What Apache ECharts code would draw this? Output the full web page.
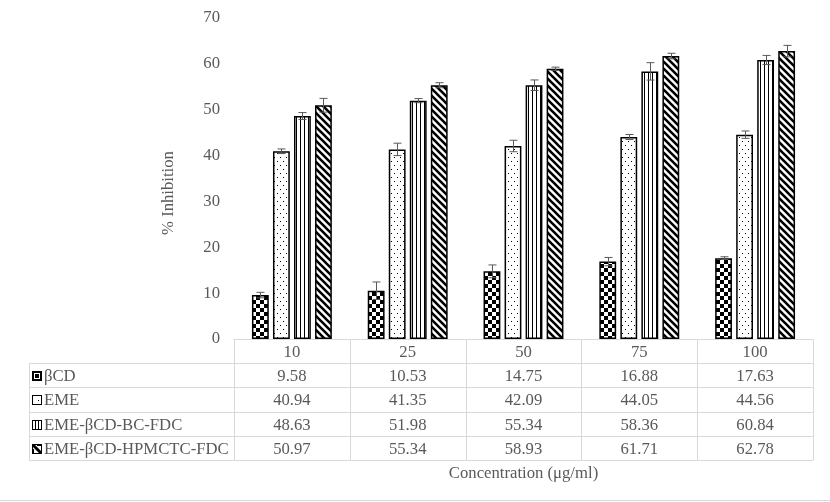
<!DOCTYPE html>
<html><head><meta charset="utf-8">
<script src="https://cdn.jsdelivr.net/npm/echarts@6/dist/echarts.min.js"></script>
<style>html,body{margin:0;padding:0;background:#fff}#c{width:830px;height:502px}</style>
</head><body><div id="c"></div>
<script>
// ---------- data ----------
const categories = ['10', '25', '50', '75', '100'];
const seriesNames = ['βCD', 'EME', 'EME-βCD-BC-FDC', 'EME-βCD-HPMCTC-FDC'];
const betaCD  = [9.58, 10.53, 14.75, 16.88, 17.63];
const eme     = [40.94, 41.35, 42.09, 44.05, 44.56];
const bcFdc   = [48.63, 51.98, 55.34, 58.36, 60.84];
const hpmcFdc = [50.97, 55.34, 58.93, 61.71, 62.78];
const betaCDErr  = [0.6, 1.9, 1.4, 0.9, 0.3];
const emeErr     = [0.5, 1.35, 1.25, 0.55, 0.8];
const bcErr      = [0.75, 0.45, 1.15, 1.9, 1.0];
const hpmcErr    = [1.5, 0.55, 0.35, 0.6, 1.25];
const yMin = 0, yMax = 70, yInterval = 10;
const xTitle = 'Concentration (μg/ml)';
const yTitle = '% Inhibition';

const seriesValues = [betaCD, eme, bcFdc, hpmcFdc];
const seriesErrors = [betaCDErr, emeErr, bcErr, hpmcErr];

// ---------- style ----------
const FONT = "'Liberation Serif','Times New Roman',serif";
const FS = 16.7;
const TXT = '#595959';
const LINE = '#d9d9d9';
const CAT_GAP = 0.31, BAR_GAP = 0.25;

function mk(w, h, draw) {
  const c = document.createElement('canvas');
  c.width = w; c.height = h;
  const g = c.getContext('2d');
  g.fillStyle = '#fff'; g.fillRect(0, 0, w, h);
  g.fillStyle = '#000'; g.strokeStyle = '#000';
  draw(g, w, h);
  return c;
}
const patChecker = mk(8, 8, g => { g.fillRect(0, 0, 4, 4); g.fillRect(4, 4, 4, 4); });
const patDots = mk(6, 8, g => { g.fillRect(1, 1, 1, 1); g.fillRect(4, 5, 1, 1); });
const patVert = mk(4, 4, g => { g.fillRect(0, 0, 1, 4); });
const patDiag = mk(7, 7, g => {
  g.lineWidth = 2.6;
  g.beginPath();
  for (let k = -1; k <= 1; k++) { g.moveTo(k * 7 - 1, -1); g.lineTo(k * 7 + 8, 8); }
  g.stroke();
});
const patterns = [patChecker, patDots, patVert, patDiag];

function icon(idx) {
  const small = [
    mk(10, 10, g => { g.fillRect(0,0,10,10); g.fillStyle='#fff'; g.fillRect(2,2,6,6); g.fillStyle='#000'; g.fillRect(3,3,4,4); }),
    mk(10, 10, g => { g.fillRect(0,0,10,10); g.fillStyle='#fff'; g.fillRect(1,1,8,8); g.fillStyle='#000'; g.fillRect(6,5,1,1); }),
    mk(10, 10, g => { g.fillRect(0,0,10,10); g.fillStyle='#fff'; g.fillRect(1,1,8,8); g.fillStyle='#000'; g.fillRect(3,1,1,8); g.fillRect(6,1,1,8); }),
    mk(10, 10, g => { g.fillRect(0,0,10,10); g.fillStyle='#fff'; g.fillRect(1,1,8,8); g.fillStyle='#000'; g.lineWidth=3; g.beginPath(); g.moveTo(0,0); g.lineTo(10,10); g.stroke(); g.fillRect(5,1,4,1); g.fillRect(1,5,1,4);})
  ];
  return small[idx];
}

const chart = echarts.init(document.getElementById('c'), null, { renderer: 'canvas' });

const GRID = { left: 234, right: 17, top: 18, bottom: 163 };

function errSeries(sIdx) {
  const vals = seriesValues[sIdx], errs = seriesErrors[sIdx];
  return {
    type: 'custom', z: 10, silent: true,
    data: vals.map((v, i) => [i, v, errs[i]]),
    renderItem(params, api) {
      const i = api.value(0), v = api.value(1), e = api.value(2);
      const band = api.size([1, 0])[0];
      const usable = band * (1 - CAT_GAP);
      const bw = usable / (4 + 3 * BAR_GAP);
      const off = -usable / 2 + bw / 2 + sIdx * bw * (1 + BAR_GAP);
      const c = api.coord([i, v]);
      const hi = api.coord([i, v + e]);
      const lo = api.coord([i, v - e]);
      const x = Math.round(c[0] + off) + 0.5;
      const cap = 4;
      const st = { stroke: '#595959', lineWidth: 1 };
      return { type: 'group', children: [
        { type: 'line', shape: { x1: x, y1: hi[1], x2: x, y2: lo[1] }, style: st },
        { type: 'line', shape: { x1: x - cap, y1: hi[1], x2: x + cap, y2: hi[1] }, style: st },
        { type: 'line', shape: { x1: x - cap, y1: lo[1], x2: x + cap, y2: lo[1] }, style: st }
      ]};
    }
  };
}

const barSeries = seriesNames.map((name, k) => ({
  name, type: 'bar',
  data: seriesValues[k],
  barCategoryGap: (CAT_GAP * 100) + '%',
  barGap: (BAR_GAP * 100) + '%',
  itemStyle: {
    color: { image: patterns[k], repeat: 'repeat' },
    borderColor: '#000', borderWidth: 1.5
  },
  silent: true
}));

chart.setOption({
  animation: false,
  backgroundColor: '#fff',
  grid: GRID,
  xAxis: {
    type: 'category', data: categories,
    axisLine: { show: true, lineStyle: { color: LINE } },
    axisTick: { show: false },
    axisLabel: { show: false }
  },
  yAxis: {
    type: 'value', min: yMin, max: yMax, interval: yInterval,
    axisLine: { show: false }, axisTick: { show: false },
    splitLine: { show: false },
    axisLabel: { color: TXT, fontFamily: FONT, fontSize: FS, margin: 14 }
  },
  series: [...barSeries, ...[0, 1, 2, 3].map(errSeries)]
});

// ---------- data table & titles ----------
const W = chart.getWidth(), H = chart.getHeight();
const gx0 = GRID.left, gx1 = W - GRID.right, gy1 = H - GRID.bottom;
const ROW_H = 24.2;
const LEFT_X = 29;
const centers = categories.map((c, i) => chart.convertToPixel({ xAxisIndex: 0 }, i));
const band = (gx1 - gx0) / categories.length;
const g = [];
const ln = (x1, y1, x2, y2) => g.push({ type: 'line', silent: true,
  shape: { x1, y1, x2, y2 }, style: { stroke: LINE, lineWidth: 1 } });
const tx = (x, y, text, align) => g.push({ type: 'text', silent: true,
  x, y, style: { text, fill: TXT, font: FS + 'px ' + FONT, align: align || 'center', verticalAlign: 'middle' } });

const nRows = seriesNames.length + 1;
const rowY = k => Math.round(gy1 + k * ROW_H) + 0.5;
ln(gx0, rowY(0), gx1, rowY(0));
for (let k = 1; k <= nRows; k++) ln(LEFT_X, rowY(k), gx1, rowY(k));
ln(LEFT_X + 0.5, rowY(1), LEFT_X + 0.5, rowY(nRows));
for (let i = 0; i <= categories.length; i++) {
  const x = Math.round(gx0 + i * band) + 0.5;
  ln(x, rowY(0), x, rowY(nRows));
}
categories.forEach((c, i) => tx(centers[i], (rowY(0) + rowY(1)) / 2 + 1, c));
seriesNames.forEach((name, k) => {
  const yc = (rowY(k + 1) + rowY(k + 2)) / 2 + 1;
  g.push({ type: 'image', silent: true, style: { image: icon(k), x: LEFT_X + 3, y: Math.round(yc - 6), width: 10, height: 10 } });
  tx(LEFT_X + 15, yc, name, 'left');
  seriesValues[k].forEach((v, i) => tx(centers[i], yc, v.toFixed(2)));
});
tx((gx0 + gx1) / 2, rowY(nRows) + 13, xTitle);
g.push({ type: 'text', silent: true, x: 169, y: 193, rotation: Math.PI / 2,
  style: { text: yTitle, fill: TXT, font: FS + 'px ' + FONT, align: 'center', verticalAlign: 'middle' } });
ln(0, H - 1.5, W, H - 1.5);

chart.setOption({ graphic: { elements: g } });
</script>
</body></html>
